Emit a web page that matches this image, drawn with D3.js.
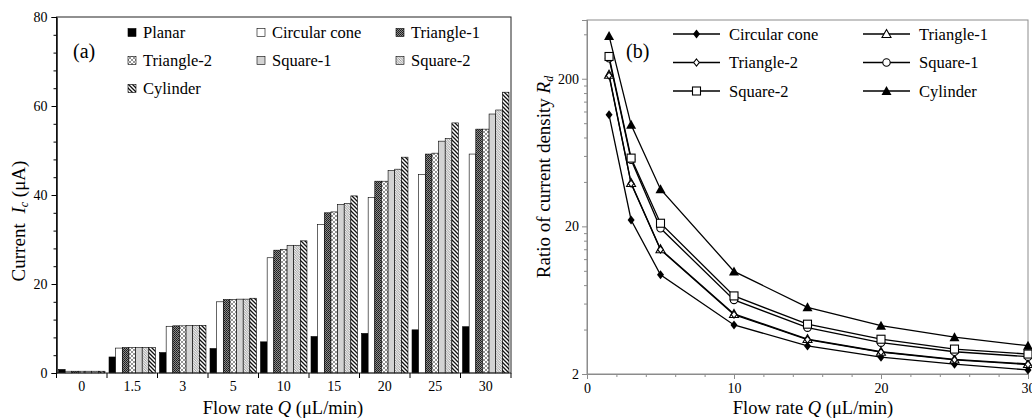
<!DOCTYPE html>
<html>
<head>
<meta charset="utf-8">
<script src="https://cdn.jsdelivr.net/npm/d3@7"></script>
<style>
  body { margin: 0; background: #fff; }
  svg { display: block; }
  svg text { font-family: "Liberation Serif", "Times New Roman", serif; fill: #000; }
</style>
</head>
<body>
<svg id="chart" width="1032" height="419"></svg>
<script>
// ---------- data ----------
const flowCats = ["0", "1.5", "3", "5", "10", "15", "20", "25", "30"];
const barSeries = ["Planar", "Circular cone", "Triangle-1", "Triangle-2", "Square-1", "Square-2", "Cylinder"];
const planar      = [0.8, 3.6, 4.6, 5.5, 7.0, 8.2, 8.9, 9.7, 10.4];
const circCone    = [0.4, 5.6, 10.5, 16.0, 25.9, 33.4, 39.4, 44.6, 49.2];
const triangle1   = [0.4, 5.7, 10.6, 16.5, 27.6, 36.0, 43.1, 49.2, 54.8];
const triangle2   = [0.4, 5.7, 10.6, 16.5, 27.8, 36.2, 43.1, 49.4, 54.8];
const square1     = [0.4, 5.7, 10.7, 16.6, 28.7, 37.9, 45.5, 52.1, 58.2];
const square2     = [0.4, 5.7, 10.7, 16.6, 28.7, 38.1, 45.8, 52.7, 59.1];
const cylinder    = [0.4, 5.7, 10.7, 16.8, 29.7, 39.8, 48.5, 56.2, 63.1];
const barValues = [planar, circCone, triangle1, triangle2, square1, square2, cylinder];
const leftYTicks = [0, 20, 40, 60, 80];

const flowQ = [1.5, 3, 5, 10, 15, 20, 25, 30];
const lineSeries = ["Circular cone", "Triangle-1", "Triangle-2", "Square-1", "Square-2", "Cylinder"];
const rdCircCone  = [114, 22.1, 9.4, 4.30, 3.10, 2.60, 2.33, 2.13];
const rdTriangle1 = [213, 39.3, 14.0, 5.10, 3.45, 2.83, 2.51, 2.34];
const rdTriangle2 = [210, 39.0, 13.9, 5.05, 3.42, 2.81, 2.49, 2.32];
const rdSquare1   = [275, 56.5, 19.4, 6.35, 4.12, 3.26, 2.83, 2.62];
const rdSquare2   = [283, 58.0, 21.0, 6.76, 4.35, 3.44, 2.95, 2.73];
const rdCylinder  = [390, 97.5, 35.7, 9.90, 5.66, 4.25, 3.55, 3.11];
const lineValues = [rdCircCone, rdTriangle1, rdTriangle2, rdSquare1, rdSquare2, rdCylinder];
const rightXTicks = [0, 10, 20, 30];
const rightYTicks = [2, 20, 200];

const svg = d3.select("#chart");

// ---------- patterns ----------
const defs = svg.append("defs");
function pat(id, w, h, build) {
    const p = defs.append("pattern").attr("id", id)
        .attr("patternUnits", "userSpaceOnUse").attr("width", w).attr("height", h);
    build(p);
}
pat("pTri1", 2, 2, p => {
    p.append("rect").attr("width", 2).attr("height", 2).attr("fill", "#8a8a8a");
    p.append("rect").attr("width", 1).attr("height", 1).attr("fill", "#1a1a1a");
    p.append("rect").attr("x", 1).attr("y", 1).attr("width", 1).attr("height", 1).attr("fill", "#2a2a2a");
});
pat("pTri2", 4, 4, p => {
    p.append("rect").attr("width", 4).attr("height", 4).attr("fill", "#fff");
    p.append("path").attr("d", "M0,0L4,4M4,0L0,4").attr("stroke", "#888").attr("stroke-width", 0.9);
});
pat("pSq2", 2.5, 2.5, p => {
    p.append("rect").attr("width", 2.5).attr("height", 2.5).attr("fill", "#eee");
    p.append("path").attr("d", "M0,0L2.5,2.5M-1,1.5L1,3.5M1.5,-1L3.5,1").attr("stroke", "#8a8a8a").attr("stroke-width", 0.8);
});
pat("pCyl", 4, 4, p => {
    p.append("rect").attr("width", 4).attr("height", 4).attr("fill", "#fff");
    p.append("path").attr("d", "M0,0L4,4M-2,2L2,6M2,-2L6,2").attr("stroke", "#111").attr("stroke-width", 1.3);
});
const barFills = ["#000", "#fff", "url(#pTri1)", "url(#pTri2)", "#d3d3d3", "url(#pSq2)", "url(#pCyl)"];

// ---------- left chart (a) ----------
const L = {left: 56.5, right: 511, top: 17, bottom: 373};
const x0 = d3.scaleBand().domain(flowCats).range([L.left, L.right]).paddingInner(0.08).paddingOuter(0.04);
const x1 = d3.scaleBand().domain(barSeries).range([0, x0.bandwidth()]);
const yL = d3.scaleLinear().domain([0, 80]).range([L.bottom, L.top]);

const gA = svg.append("g");
flowCats.forEach((c, i) => {
    gA.append("g").selectAll("rect")
        .data(barSeries)
        .join("rect")
        .attr("x", s => x0(c) + x1(s))
        .attr("width", x1.bandwidth())
        .attr("y", (s, j) => yL(barValues[j][i]))
        .attr("height", (s, j) => yL(0) - yL(barValues[j][i]))
        .attr("fill", (s, j) => barFills[j])
        .attr("stroke", "#000")
        .attr("stroke-width", 0.6);
});

// frame
gA.append("rect").attr("x", L.left).attr("y", L.top)
    .attr("width", L.right - L.left).attr("height", L.bottom - L.top)
    .attr("fill", "none").attr("stroke", "#222").attr("stroke-width", 1);

// y axis
const yAxisL = gA.append("g").attr("transform", `translate(${L.left},0)`)
    .call(d3.axisLeft(yL).tickValues(leftYTicks).tickSize(5).tickPadding(4));
gA.append("g").attr("transform", `translate(${L.left},0)`)
    .call(d3.axisLeft(yL).tickValues(d3.range(4, 80, 4).filter(v => v % 20)).tickSize(3).tickFormat(""));
// x axis: labels at band centres, ticks at band boundaries
const step = x0.step();
gA.append("g").selectAll("line")
    .data(flowCats)
    .join("line")
    .attr("x1", c => x0(c) + x0.bandwidth() / 2 + step / 2)
    .attr("x2", c => x0(c) + x0.bandwidth() / 2 + step / 2)
    .attr("y1", L.bottom).attr("y2", L.bottom + 5)
    .attr("stroke", "#000");
gA.append("line").attr("x1", L.left).attr("x2", L.left).attr("y1", L.bottom).attr("y2", L.bottom + 5).attr("stroke", "#000");
gA.append("g").selectAll("text")
    .data(flowCats)
    .join("text")
    .attr("x", c => x0(c) + x0.bandwidth() / 2)
    .attr("y", 391)
    .attr("text-anchor", "middle")
    .attr("font-size", 14)
    .text(c => c);

// legend (a)
const legA = gA.append("g");
barSeries.forEach((s, j) => {
    const col = j % 3, row = Math.floor(j / 3);
    const lx = [128, 257, 396][col], ly = 33 + row * 28;
    legA.append("rect").attr("x", lx).attr("y", ly - 4.5).attr("width", 8).attr("height", 8)
        .attr("fill", barFills[j]).attr("stroke", "#000").attr("stroke-width", 0.6);
    legA.append("text").attr("x", lx + 15).attr("y", ly + 5).attr("font-size", 16.5).text(s);
});
gA.append("text").attr("x", 73).attr("y", 58).attr("font-size", 20).text("(a)");

// titles
gA.append("text").attr("x", 283).attr("y", 414).attr("text-anchor", "middle").attr("font-size", 18.5)
    .html('Flow rate <tspan font-style="italic">Q</tspan> (μL/min)');
gA.append("text").attr("transform", "translate(25,221) rotate(-90)").attr("text-anchor", "middle").attr("font-size", 19)
    .html('Current <tspan dx="5" font-style="italic">I</tspan><tspan font-style="italic" font-size="12" dy="3">c</tspan><tspan dy="-3"> (μA)</tspan>');

// ---------- right chart (b) ----------
const R = {left: 587, right: 1028, top: 20, bottom: 374};
const xR = d3.scaleLinear().domain([0, 30]).range([R.left, R.right]);
const yR = d3.scaleLog().domain([2, 500]).range([R.bottom, R.top]);
const gB = svg.append("g");

gB.append("rect").attr("x", R.left).attr("y", R.top)
    .attr("width", R.right - R.left).attr("height", R.bottom - R.top)
    .attr("fill", "none").attr("stroke", "#8c8c8c").attr("stroke-width", 1);

const minorY = [];
[2, 20, 200].forEach(d => { for (let k = 2; k <= 9; k++) { const v = d * k; if (v < 500) minorY.push(v); } });
gB.append("g").attr("transform", `translate(${R.left},0)`)
    .call(d3.axisLeft(yR).tickValues(rightYTicks).tickSize(5).tickPadding(3).tickFormat(d3.format("d")));
gB.append("g").attr("transform", `translate(${R.left},0)`)
    .call(d3.axisLeft(yR).tickValues(minorY).tickSize(3).tickFormat(""));
gB.append("g").attr("transform", `translate(0,${R.bottom})`)
    .call(d3.axisBottom(xR).tickValues(rightXTicks).tickSize(5).tickPadding(4));
gB.append("g").attr("transform", `translate(0,${R.bottom})`)
    .call(d3.axisBottom(xR).tickValues(d3.range(2, 30, 2).filter(v => v % 10)).tickSize(3).tickFormat(""));
gB.selectAll(".domain").attr("stroke", "#8c8c8c");
gB.selectAll(".tick line").attr("stroke", "#8c8c8c");
svg.selectAll(".tick text").attr("font-size", 14);
yAxisL.select(".domain").attr("stroke", "#222");

// markers
function marker(g, j, cx, cy) {
    const m = g.append("g").attr("transform", `translate(${cx},${cy})`);
    if (j === 0) m.append("path").attr("d", "M0,-4.5L3.5,0L0,4.5L-3.5,0Z").attr("fill", "#000");
    if (j === 1) m.append("path").attr("d", "M0,-4.5L4.5,3.5L-4.5,3.5Z").attr("fill", "#fff").attr("stroke", "#000").attr("stroke-width", 1.1);
    if (j === 2) m.append("path").attr("d", "M0,-3.5L2.8,0L0,3.5L-2.8,0Z").attr("fill", "#fff").attr("stroke", "#000").attr("stroke-width", 1.1);
    if (j === 3) m.append("circle").attr("r", 3.7).attr("fill", "#fff").attr("stroke", "#000").attr("stroke-width", 1.1);
    if (j === 4) m.append("rect").attr("x", -4).attr("y", -4).attr("width", 8).attr("height", 8).attr("fill", "#fff").attr("stroke", "#000").attr("stroke-width", 1.1);
    if (j === 5) m.append("path").attr("d", "M0,-5L5,4L-5,4Z").attr("fill", "#000");
}

const line = d3.line().x((d, i) => xR(flowQ[i])).y(d => yR(d));
lineValues.forEach((vals, j) => {
    gB.append("path").datum(vals).attr("d", line)
        .attr("fill", "none").attr("stroke", "#000").attr("stroke-width", 1.3);
});
lineValues.forEach((vals, j) => {
    vals.forEach((v, i) => marker(gB, j, xR(flowQ[i]), yR(v)));
});

// legend (b)
lineSeries.forEach((s, j) => {
    const col = j % 2, row = Math.floor(j / 2);
    const lx = [673, 863][col], ly = 34 + row * 28.5;
    gB.append("line").attr("x1", lx).attr("x2", lx + 47).attr("y1", ly).attr("y2", ly)
        .attr("stroke", "#000").attr("stroke-width", 1.3);
    marker(gB, j, lx + 23.5, ly);
    gB.append("text").attr("x", lx + 56).attr("y", ly + 5.5).attr("font-size", 16.5).text(s);
});
gB.append("text").attr("x", 626).attr("y", 58).attr("font-size", 20).text("(b)");

gB.append("text").attr("x", 813).attr("y", 414).attr("text-anchor", "middle").attr("font-size", 18.5)
    .html('Flow rate <tspan font-style="italic">Q</tspan> (μL/min)');
gB.append("text").attr("transform", "translate(550,177) rotate(-90)").attr("text-anchor", "middle").attr("font-size", 19)
    .html('Ratio of current density <tspan font-style="italic">R</tspan><tspan font-style="italic" font-size="12" dy="3">d</tspan>');
</script>
</body>
</html>
